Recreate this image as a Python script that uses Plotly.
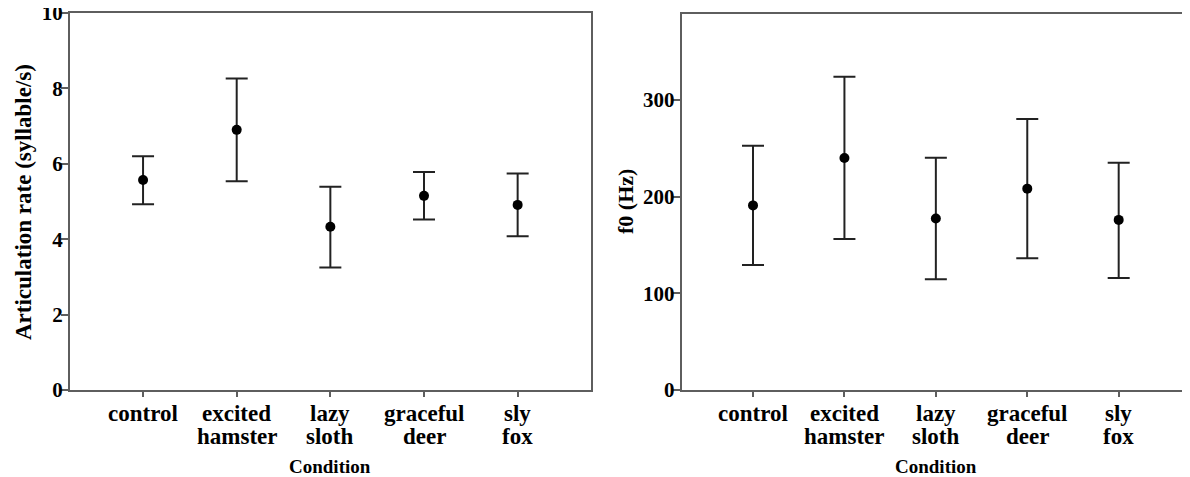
import plotly.graph_objects as go

conditions_line1 = ["control", "excited", "lazy", "graceful", "sly"]
conditions_line2 = ["", "hamster", "sloth", "deer", "fox"]

rate_mean = [5.57, 6.90, 4.33, 5.15, 4.91]
rate_upper = [6.20, 8.26, 5.39, 5.78, 5.74]
rate_lower = [4.93, 5.54, 3.25, 4.52, 4.08]

f0_mean = [191.0, 240.0, 177.5, 208.3, 176.0]
f0_upper = [252.7, 324.1, 240.3, 280.3, 235.2]
f0_lower = [129.3, 156.2, 114.5, 136.2, 115.9]

left_yticks = [0, 2, 4, 6, 8, 10]
right_yticks = [0, 100, 200, 300]

FONT = "Liberation Serif"
AXCOL = "#5e5e5e"
OFF = 8  # page offset of the plot div inside the browser window
W, H = 1190 - OFF, 477 - OFF
xpos = list(range(len(conditions_line1)))


def fx(px):
    return (px - OFF) / W


def fy(py):
    return 1 - (py - OFF) / H


def trace(mean, up, lo, xa, ya):
    return go.Scatter(
        x=xpos, y=mean, mode="markers", xaxis=xa, yaxis=ya,
        marker=dict(color="black", size=10),
        error_y=dict(type="data", symmetric=False,
                     array=[u - m for u, m in zip(up, mean)],
                     arrayminus=[m - l for m, l in zip(mean, lo)],
                     color="#222222", thickness=2, width=11),
        showlegend=False, hoverinfo="skip",
    )


fig = go.Figure()
fig.add_trace(trace(rate_mean, rate_upper, rate_lower, "x", "y"))
fig.add_trace(trace(f0_mean, f0_upper, f0_lower, "x2", "y2"))

tickfont = dict(family=FONT, size=21, color="black", weight="bold")
xlabfont = dict(family=FONT, size=23, color="black", weight="bold")
condfont = dict(family=FONT, size=19, color="black", weight="bold")

xcommon = dict(
    tickmode="array", tickvals=xpos, showticklabels=False,
    range=[-0.78, 4.78], showgrid=False, zeroline=False,
    showline=True, linecolor=AXCOL, linewidth=2, mirror=True,
    ticks="outside", ticklen=5, tickcolor=AXCOL, tickwidth=1.5,
    automargin=False, fixedrange=True,
)
ycommon = dict(
    showgrid=False, zeroline=False, showline=True,
    linecolor=AXCOL, linewidth=2,
    ticks="outside", ticklen=7, tickcolor=AXCOL, tickwidth=1.5,
    tickfont=tickfont, automargin=False, fixedrange=True,
    ticklabelstandoff=-6, ticklabeloverflow="allow",
)

fig.update_layout(
    width=W, height=H,
    margin=dict(l=0, r=0, t=0, b=0),
    paper_bgcolor="white", plot_bgcolor="white",
    xaxis=dict(domain=[fx(70), fx(590.7)], anchor="y", **xcommon),
    xaxis2=dict(domain=[fx(681.7), 1.0], anchor="y2", **xcommon),
    yaxis=dict(
        domain=[fy(390), fy(13)], anchor="x", range=[0, 10],
        tickmode="array", tickvals=left_yticks, mirror=True,
        **ycommon,
    ),
    yaxis2=dict(
        domain=[fy(390), fy(14)], anchor="x2", range=[0, 389],
        tickmode="array", tickvals=right_yticks, mirror=False,
        **ycommon,
    ),
)

annotations = []
for xa in ["x", "x2"]:
    for i in xpos:
        annotations.append(dict(x=i, xref=xa, y=fy(413), yref="paper",
                                text=conditions_line1[i], showarrow=False,
                                font=xlabfont, xanchor="center", yanchor="middle"))
        if conditions_line2[i]:
            annotations.append(dict(x=i, xref=xa, y=fy(436), yref="paper",
                                    text=conditions_line2[i], showarrow=False,
                                    font=xlabfont, xanchor="center", yanchor="middle"))
    annotations.append(dict(x=2, xref=xa, y=fy(466), yref="paper",
                            text="Condition", showarrow=False, font=condfont,
                            xanchor="center", yanchor="middle"))

annotations.append(dict(x=fx(23), xref="paper", y=fy(202), yref="paper",
                        text="Articulation rate (syllable/s)", textangle=-90,
                        showarrow=False, xanchor="center", yanchor="middle",
                        font=dict(family=FONT, size=23, color="black", weight="bold")))
annotations.append(dict(x=fx(625), xref="paper", y=fy(202), yref="paper",
                        text="f0 (Hz)", textangle=-90,
                        showarrow=False, xanchor="center", yanchor="middle",
                        font=dict(family=FONT, size=22, color="black", weight="bold")))
fig.update_layout(annotations=annotations)

fig.write_html("out.html")
